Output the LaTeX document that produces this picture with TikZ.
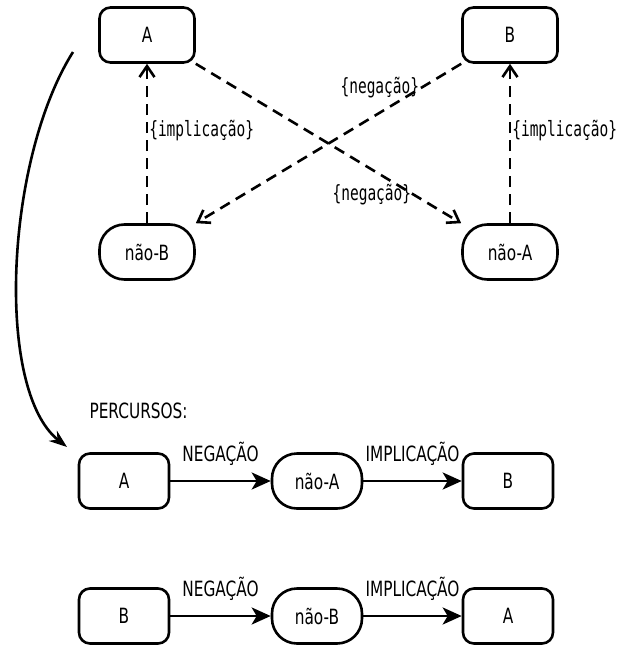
\documentclass[tikz,border=0pt]{standalone}
\usepackage{fontspec}
\setmainfont[FakeStretch=0.73]{DejaVu Sans}
\setmonofont[FakeStretch=0.69]{DejaVu Sans Mono}
\usetikzlibrary{arrows.meta}

\begin{document}
\begin{tikzpicture}[x=1pt,y=-1pt,
        font=\fontsize{21}{24}\selectfont,
        caixa/.style={draw, line width=2.6pt, rounded corners=11pt, minimum width=95pt, minimum height=55pt},
        pilula/.style={caixa, rounded corners=25pt},
        tracejada/.style={line width=2.6pt, dash pattern=on 11pt off 7pt, -{Straight Barb[length=11pt,width=15pt]}},
        cheia/.style={line width=2.6pt, -{Stealth[length=19pt,width=17pt,inset=5pt]}},
        rotulo/.style={font=\ttfamily\fontsize{21}{24}\selectfont, inner sep=1pt}]
        \useasboundingbox (0,0) rectangle (620,648);

        % quadrado de cima
        \node[caixa] (A) at (147,35) {A};
        \node[caixa] (B) at (510,35) {B};
        \node[pilula] (naoB) at (147,252) {não-B};
        \node[pilula] (naoA) at (510,252) {não-A};

        \draw[tracejada] (naoB.north) -- (A.south) node[rotulo, pos=0.58, anchor=west] {\{implicação\}};
        \draw[tracejada] (naoA.north) -- (B.south) node[rotulo, pos=0.58, anchor=west] {\{implicação\}};
        \draw[tracejada] (B.south west) -- (naoB.north east) node[rotulo, pos=0.15, anchor=east] {\{negação\}};
        \draw[tracejada] (A.south east) -- (naoA.north west) node[rotulo, pos=0.82, anchor=east] {\{negação\}};

        \coordinate (ini) at (73,52);
        \coordinate (fim) at (67,447);
        \draw[line width=2.6pt, -{Stealth[length=18pt,width=13pt]}] (ini) .. controls (5,160) and (-5,390) .. (fim);

        \node[anchor=west] (titulo) at (86,411) {PERCURSOS:};

        % percursos
        \node[caixa, minimum width=90pt] (pA) at (124,481) {A};
        \node[pilula, minimum width=90pt] (pnaoA) at (317,481) {não-A};
        \node[caixa, minimum width=90pt] (pB) at (508,481) {B};
        \draw[cheia] (pA) -- (pnaoA) node[midway, above=11pt] {NEGAÇÃO};
        \draw[cheia] (pnaoA) -- (pB) node[midway, above=11pt] {IMPLICAÇÃO};

        \node[caixa, minimum width=90pt] (qB) at (124,616) {B};
        \node[pilula, minimum width=90pt] (qnaoB) at (317,616) {não-B};
        \node[caixa, minimum width=90pt] (qA) at (508,616) {A};
        \draw[cheia] (qB) -- (qnaoB) node[midway, above=11pt] {NEGAÇÃO};
        \draw[cheia] (qnaoB) -- (qA) node[midway, above=11pt] {IMPLICAÇÃO};
\end{tikzpicture}
\end{document}
